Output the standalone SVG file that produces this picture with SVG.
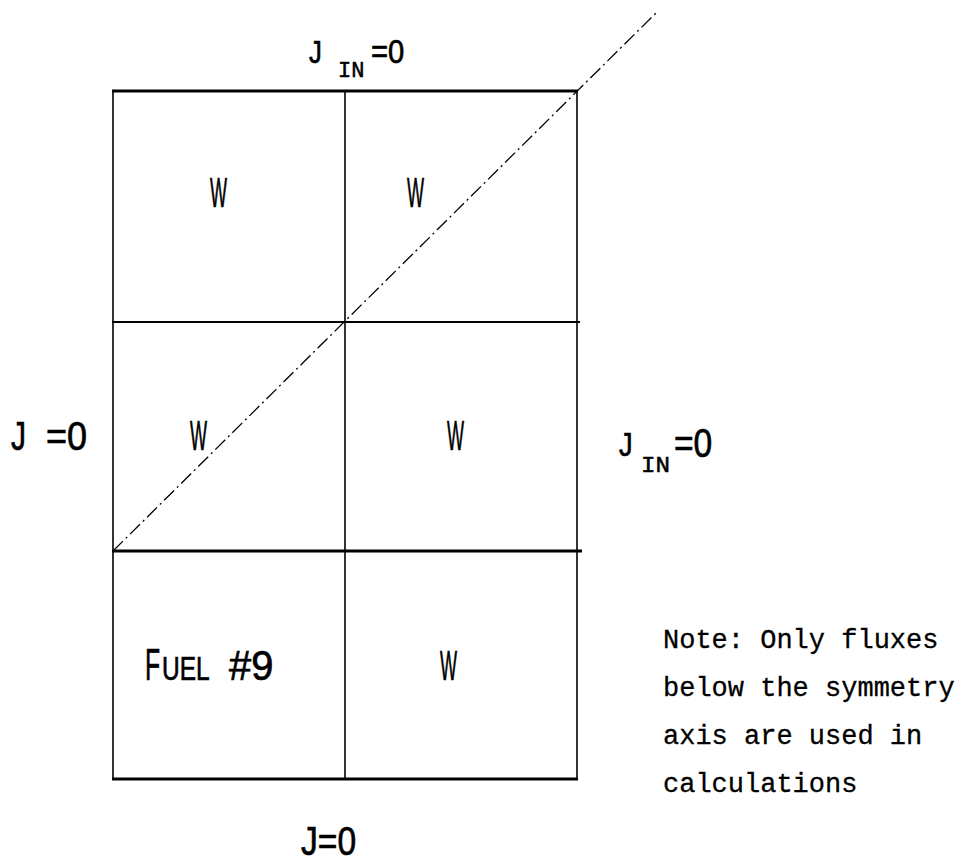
<svg xmlns="http://www.w3.org/2000/svg" width="967" height="864" viewBox="0 0 967 864">
<style>
.p{font-family:"Liberation Sans",Arial,sans-serif;fill:#000;stroke:#000;stroke-width:0.7}
.m{font-family:"Liberation Mono","Courier New",monospace;fill:#000;stroke:#000;stroke-width:0.3}
.sub{font-family:"Liberation Mono","Courier New",monospace;fill:#000;stroke:#000;stroke-width:0.5}
.thin{stroke:#000;stroke-width:1.6;fill:none}
.mid{stroke:#000;stroke-width:2.2;fill:none}
.thick{stroke:#000;stroke-width:3;fill:none}
.axis{stroke:#000;stroke-width:1.3;fill:none;stroke-dasharray:14 4 2 4}
</style>
<rect width="967" height="864" fill="#fff"/>
<g id="grid">
<line class="thin" x1="113" y1="91" x2="113" y2="779"/>
<line class="thin" x1="345" y1="91" x2="345" y2="779"/>
<line class="thin" x1="577" y1="91" x2="577" y2="779"/>
<line class="thick" x1="112" y1="91" x2="578" y2="91"/>
<line class="mid" x1="112" y1="322" x2="580" y2="322"/>
<line class="thick" x1="112" y1="551" x2="582" y2="551"/>
<line class="thick" x1="112" y1="779" x2="578" y2="779"/>
</g>
<g id="connectors">
<line class="axis" x1="113" y1="551" x2="658" y2="11"/>
</g>
<g id="cell-w1"><text class="p" font-size="42" transform="translate(210,207) scale(0.43,1)">W</text></g>
<g id="cell-w2"><text class="p" font-size="42" transform="translate(407,207) scale(0.43,1)">W</text></g>
<g id="cell-w3"><text class="p" font-size="42" transform="translate(190,450) scale(0.43,1)">W</text></g>
<g id="cell-w4"><text class="p" font-size="42" transform="translate(447,450) scale(0.43,1)">W</text></g>
<g id="cell-w5"><text class="p" font-size="42" transform="translate(440,680) scale(0.43,1)">W</text></g>
<g id="cell-fuel">
<text class="p" font-size="45" transform="translate(145,680) scale(0.55,1)">F</text>
<text class="p" font-size="34" transform="translate(162,680) scale(0.72,1)">UEL</text>
<text class="p" font-size="42" transform="translate(229,680) scale(0.95,1)">#9</text>
</g>
<g id="bc-top">
<text class="p" font-size="32" transform="translate(309,63) scale(0.8,1)">J</text>
<text class="sub" font-size="22" transform="translate(338,77) scale(1.0,1)">IN</text>
<text class="p" font-size="34" transform="translate(371,63) scale(0.86,1)">=0</text>
</g>
<g id="bc-right">
<text class="p" font-size="34" transform="translate(619,456) scale(0.8,1)">J</text>
<text class="sub" font-size="22" transform="translate(641,472) scale(1.1,1)">IN</text>
<text class="p" font-size="40" transform="translate(674,457) scale(0.84,1)">=0</text>
</g>
<g id="bc-left">
<text class="p" font-size="40" transform="translate(11,450) scale(0.75,1)">J</text>
<text class="p" font-size="40" transform="translate(46,450) scale(0.9,1)">=0</text>
</g>
<g id="bc-bottom">
<text class="p" font-size="40" transform="translate(301,855) scale(0.84,1)">J=0</text>
</g>
<g id="note">
<text class="m" font-size="27" x="663" y="648">Note: Only fluxes</text>
<text class="m" font-size="27" x="663" y="696">below the symmetry</text>
<text class="m" font-size="27" x="663" y="744">axis are used in</text>
<text class="m" font-size="27" x="663" y="792">calculations</text>
</g>
</svg>
